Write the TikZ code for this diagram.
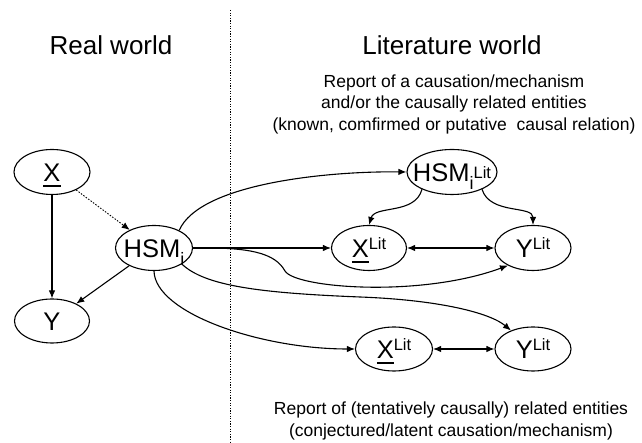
\documentclass[tikz,border=0pt]{standalone}
\usepackage{fontspec}
\setmainfont{Liberation Sans}
\usetikzlibrary{shapes.geometric,arrows.meta}
\newcommand{\litsup}[1][8pt]{\raisebox{#1}{\fontsize{16.5}{16.5}\selectfont Lit}}
\newcommand{\isub}{\raisebox{-8pt}{\fontsize{18}{18}\selectfont i}}
\newcommand{\barX}{\setbox0\hbox{X}\rlap{\rule[-5.8pt]{\wd0}{2pt}}\box0}

\begin{document}
\begin{tikzpicture}[x=1pt,y=1pt,>={Latex[length=8pt,width=6.5pt]},
  world/.style={ellipse,draw,line width=1.1pt,inner sep=0pt,minimum width=76pt,minimum height=45pt},
  wtext/.style={font=\fontsize{25.5}{25.5}\selectfont,inner sep=0pt,text height=18.5pt,text depth=0pt},
  link/.style={->,line width=1.1pt},
  head/.style={font=\fontsize{26}{26}\selectfont},
  note/.style={align=center,font=\fontsize{17.5}{21.5}\selectfont}]
\useasboundingbox (0,0) rectangle (642,443);

\draw[line width=0.9pt,dash pattern=on 1.2pt off 1.4pt] (230,433) -- (230,0);

\node[head] (real) at (111,398) {Real world};
\node[head] (lit) at (452,398) {Literature world};
\node[note] (top) at (454,339) {Report of a causation/mechanism\\and/or the causally related entities\\(known, comfirmed or putative\ \ causal relation)};
\node[note] (bot) at (451,22) {Report of (tentatively causally) related entities\\(conjectured/latent causation/mechanism)};

\node[world,label={[wtext]center:\barX}] (x) at (52,271) {};
\node[world,minimum width=75pt,minimum height=44pt,label={[wtext]center:Y}] (y) at (52,122) {};
\node[world,minimum width=77pt,label={[wtext]center:HSM\isub}] (hsm) at (154,195) {};
\node[world,minimum width=90pt,label={[wtext]center:HSM\isub\litsup[3pt]}] (hsmlit) at (452,271) {};
\node[world,minimum width=75pt,label={[wtext]center:\barX\litsup}] (xlit) at (369,195) {};
\node[world,label={[wtext]center:Y\litsup}] (ylit) at (533,195) {};
\node[world,minimum width=77pt,minimum height=44pt,label={[wtext]center:\barX\litsup}] (xlitb) at (394,94) {};
\node[world,minimum height=44pt,label={[wtext]center:Y\litsup}] (ylitb) at (533,94) {};

\draw[link] (x) -- (y);
\draw[link,line width=0.9pt,dash pattern=on 1.5pt off 1.5pt] (x) -- (hsm);
\draw[link] (hsm) -- (y);
\draw[link] (hsm.35) .. controls (200,260) and (330,272) .. (hsmlit.west);
\draw[link] (hsm) -- (xlit);
\draw[link] (hsm.east) .. controls (250,196) and (275,190) .. (285,172) .. controls (295,155) and (420,145) .. (ylit.215);
\draw[link] (hsm.-30) .. controls (205,157) and (260,150) .. (360,146) .. controls (440,143) and (490,130) .. (ylitb.140);
\draw[link] (hsm.south) .. controls (155,130) and (260,94) .. (xlitb.west);
\draw[link] (hsmlit.210) .. controls (415,228) and (375,238) .. (xlit.north);
\draw[link] (hsmlit.-30) .. controls (490,228) and (533,238) .. (ylit.north);
\draw[link,<->] (xlit) -- (ylit);
\draw[link,<->] (xlitb) -- (ylitb);
\end{tikzpicture}
\end{document}
